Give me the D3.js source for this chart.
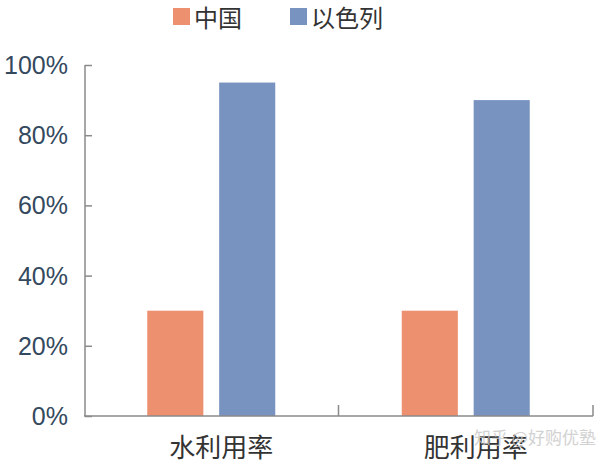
<!DOCTYPE html>
<html>
<head>
  <meta charset="utf-8">
  <script src="https://d3js.org/d3.v7.min.js"></script>
  <style>
    body { margin: 0; background: #fff; }
    text { font-family: "Liberation Sans", "Noto Sans CJK SC", sans-serif; }
    .cn { font-family: "Noto Sans CJK SC", sans-serif; }
  </style>
</head>
<body>
  <svg id="chart" width="600" height="464"></svg>
  <script>
    // data
    var categories = ["水利用率", "肥利用率"];
    var seriesNames = ["中国", "以色列"];
    var china = [0.30, 0.30];
    var israel = [0.95, 0.90];
    var yTicks = [0, 0.2, 0.4, 0.6, 0.8, 1.0];
    var colors = ["#ED9070", "#7893C0"];

    var svg = d3.select("#chart");
    var axisColor = "#8a8a8a";
    var textColor = "#34495e";

    var x = d3.scaleBand().domain(categories).range([84, 593]);
    var inner = d3.scaleBand().domain(seriesNames).range([0, 128]).paddingInner(0.22);
    var y = d3.scaleLinear().domain([0, 1]).range([416, 65]);

    var rows = categories.map((c, i) => ({ cat: c, values: [china[i], israel[i]] }));

    // bars
    var groups = svg.selectAll(".grp").data(rows).enter().append("g")
      .attr("transform", d => "translate(" + (x(d.cat) + x.bandwidth() / 2 - 64) + ",0)");
    groups.selectAll("rect")
      .data(d => d.values.map((v, j) => ({ name: seriesNames[j], v: v, j: j })))
      .enter().append("rect")
      .attr("x", d => inner(d.name))
      .attr("width", inner.bandwidth())
      .attr("y", d => y(d.v))
      .attr("height", d => y(0) - y(d.v))
      .attr("fill", d => colors[d.j]);

    // y axis
    var yAxis = svg.append("g")
      .attr("transform", "translate(85,0)")
      .call(d3.axisRight(y).tickValues(yTicks).tickSize(7).tickFormat(""));
    yAxis.selectAll("line").attr("stroke", axisColor).attr("stroke-width", 1.5);
    yAxis.select(".domain").remove();
    svg.append("line").attr("x1", 85).attr("x2", 85).attr("y1", y(1)).attr("y2", y(0))
      .attr("stroke", axisColor).attr("stroke-width", 1.5);
    svg.selectAll(".ylab").data(yTicks).enter().append("text")
      .attr("x", 68).attr("y", d => y(d)).attr("dy", "0.36em")
      .attr("text-anchor", "end").attr("font-size", 25).attr("fill", textColor)
      .text(d => d3.format(".0%")(d));

    // x axis
    svg.append("line").attr("x1", 84).attr("x2", 593).attr("y1", 416).attr("y2", 416)
      .attr("stroke", axisColor).attr("stroke-width", 1.5);
    var bounds = [x.range()[0], x(categories[1]), x.range()[1]];
    svg.selectAll(".xt").data(bounds.slice(1)).enter().append("line")
      .attr("x1", d => d).attr("x2", d => d).attr("y1", 416).attr("y2", 405)
      .attr("stroke", axisColor).attr("stroke-width", 1.5);
    svg.selectAll(".xlab").data(categories).enter().append("text")
      .attr("class", "cn")
      .attr("x", d => x(d) + x.bandwidth() / 2 + 10).attr("y", 457)
      .attr("text-anchor", "middle").attr("font-size", 26).attr("fill", "#333")
      .text(d => d);

    // legend
    var lx = [173, 290];
    var legend = svg.selectAll(".leg").data(seriesNames).enter().append("g")
      .attr("transform", (d, i) => "translate(" + lx[i] + ",0)");
    legend.append("rect").attr("x", 0).attr("y", 8).attr("width", 17).attr("height", 17)
      .attr("fill", (d, i) => colors[i]);
    legend.append("text").attr("class", "cn").attr("x", 21).attr("y", 27)
      .attr("font-size", 24).attr("fill", "#333").text(d => d);

    // watermark
    svg.append("text").attr("class", "cn").attr("x", 474).attr("y", 444)
      .attr("font-size", 17).attr("fill", "#c8c8c8").attr("opacity", 0.8)
      .text("知乎 @好购优塾");
  </script>
</body>
</html>
